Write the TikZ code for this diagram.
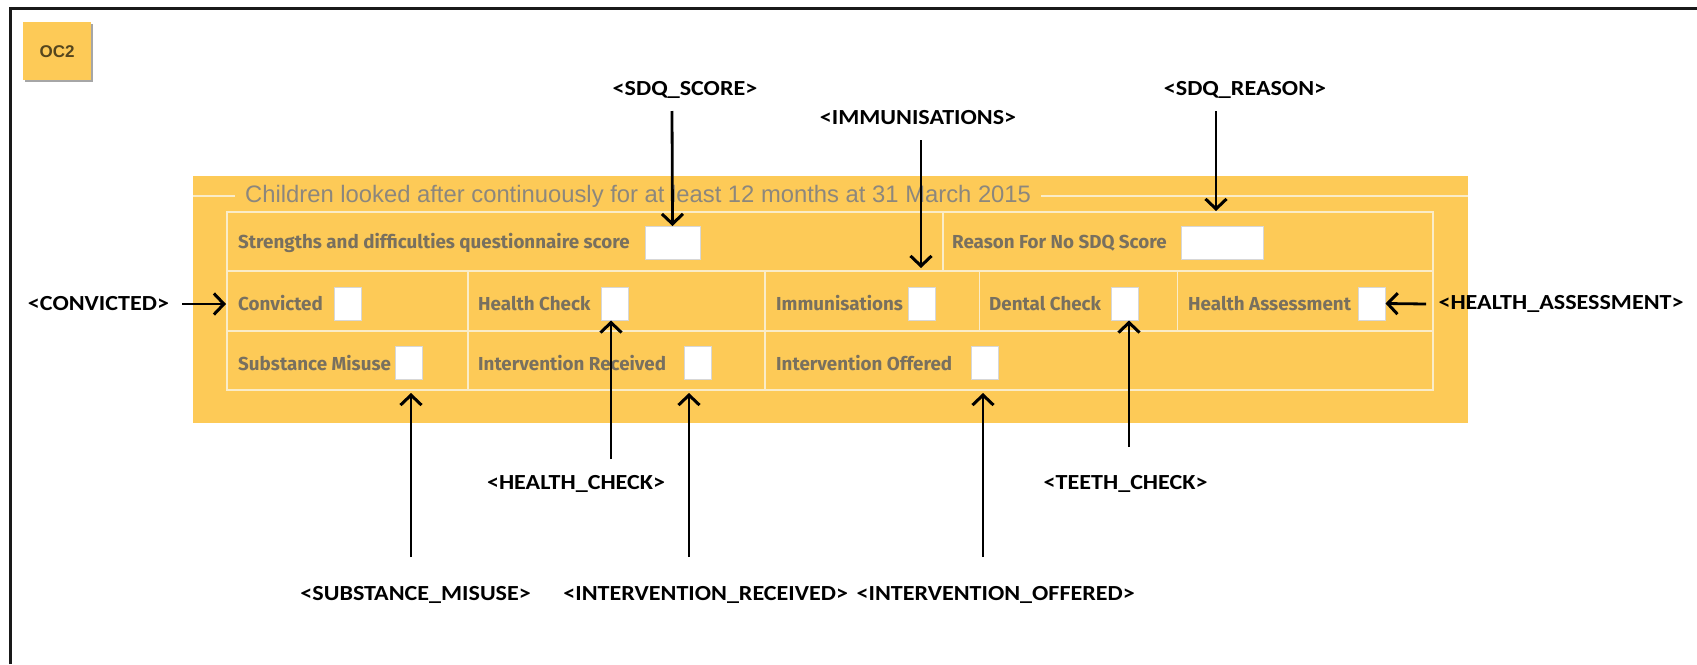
\documentclass[tikz,border=0pt]{standalone}
\usepackage{fontspec}
\usetikzlibrary{arrows.meta}
\newfontfamily\labfont[FakeStretch=1.12]{Carlito}
\newfontfamily\formfont{Fira Sans}
\newfontfamily\legfont{Liberation Sans}
\definecolor{panel}{RGB}{253,202,87}
\definecolor{tline}{RGB}{250,236,200}
\definecolor{formtxt}{RGB}{120,112,95}
\definecolor{legtxt}{RGB}{140,135,125}
\definecolor{boxedge}{RGB}{215,215,215}
\definecolor{framec}{RGB}{25,25,25}
\definecolor{btntxt}{RGB}{85,70,30}
\tikzset{
  lab/.style={font=\labfont\bfseries\fontsize{21.5}{24}\selectfont, text=black, inner sep=0pt},
  flab/.style={font=\formfont\bfseries\fontsize{18.8}{21}\selectfont, text=formtxt, anchor=west, inner sep=0pt},
  cbox/.style={draw=boxedge, line width=1pt, fill=white, minimum width=27pt, minimum height=33pt, inner sep=0pt},
  arr/.style={-{Straight Barb[length=10pt,width=21pt,line width=3pt]}, line width=2.8pt, black},
  tl/.style={draw=tline, line width=1.8pt},
}
\begin{document}
\begin{tikzpicture}[x=1pt,y=-1pt]
\useasboundingbox (0,0) rectangle (1697,664);
% frame
\draw[framec, line width=3.5pt] (10.7,664) -- (10.7,8.7) -- (1697,8.7);
% OC2 button
\fill[gray!70] (25,24) rectangle (93,82);
\node[fill=panel, minimum width=68pt, minimum height=58pt, inner sep=0pt, anchor=north west,
  font=\legfont\bfseries\fontsize{17}{19}\selectfont, text=btntxt] (oc2) at (23,22) {OC2};
% panel
\fill[panel] (193,176) rectangle (1468,423);
% fieldset line + legend
\draw[tl] (193,196) -- (1468,196);
\node[fill=panel, inner xsep=10pt, inner ysep=0pt, anchor=west, text=legtxt,
  font=\legfont\fontsize{23.8}{26}\selectfont] (legend) at (235,196)
  {Children looked after continuously for at least 12 months at 31 March 2015};
% table lines
\draw[tl] (227,212) rectangle (1433,390);
\draw[tl] (227,271) -- (1433,271);
\draw[tl] (227,331) -- (1433,331);
\draw[tl] (943,212) -- (943,271);
\draw[tl] (467.6,271) -- (467.6,390);
\draw[tl] (765,271) -- (765,390);
\draw[tl] (979.5,271) -- (979.5,331);
\draw[tl] (1177.5,271) -- (1177.5,331);
% row 1
\node[flab] (tsdq) at (238,243) {Strengths and difficulties questionnaire score};
\node[cbox, minimum width=55pt] (bsdq) at (672.5,243) {};
\node[flab] (treason) at (952,243) {Reason For No SDQ Score};
\node[cbox, minimum width=82pt] (breason) at (1222,243) {};
% row 2
\node[flab] (tconv) at (238,303.5) {Convicted};
\node[cbox] (bconv) at (347.75,303.5) {};
\node[flab] (thc) at (478,303.5) {Health Check};
\node[cbox] (bhc) at (614.5,303.5) {};
\node[flab] (timm) at (776,303.5) {Immunisations};
\node[cbox] (bimm) at (921.5,303.5) {};
\node[flab] (tden) at (989,303.5) {Dental Check};
\node[cbox] (bden) at (1125,303.5) {};
\node[flab] (tha) at (1188,303.5) {Health Assessment};
\node[cbox] (bha) at (1371.5,303.5) {};
% row 3
\node[flab] (tsub) at (238,363) {Substance Misuse};
\node[cbox] (bsub) at (408.5,363) {};
\node[flab] (tir) at (478,363) {Intervention Received};
\node[cbox] (bir) at (697.5,363) {};
\node[flab] (tio) at (776,363) {Intervention Offered};
\node[cbox] (bio) at (984.5,363) {};
% labels
\node[lab] (lsdq) at (685,90) {<SDQ\_SCORE>};
\node[lab] (lreason) at (1245,90) {<SDQ\_REASON>};
\node[lab] (limm) at (918,118) {<IMMUNISATIONS>};
\node[lab] (lconv) at (98.5,304) {<CONVICTED>};
\node[lab] (lha) at (1561,304) {<HEALTH\_ASSESSMENT>};
\node[lab] (lhc) at (576,484) {<HEALTH\_CHECK>};
\node[lab] (lteeth) at (1125.6,484) {<TEETH\_CHECK>};
\node[lab] (lsub) at (415.6,595) {<SUBSTANCE\_MISUSE>};
\node[lab] (lir) at (705.7,595) {<INTERVENTION\_RECEIVED>};
\node[lab] (lio) at (995.7,595) {<INTERVENTION\_OFFERED>};
% arrow coordinates
\coordinate (sdqT) at (672,111);
\coordinate (reasonT) at (1216,111);
\coordinate (reasonH) at (1216,211);
\coordinate (immT) at (921,140);
\coordinate (immH) at (921,268);
\coordinate (convT) at (182,304);
\coordinate (convH) at (226,304);
\coordinate (haT) at (1426,304);
\coordinate (hcT) at (611,459);
\coordinate (teethT) at (1129,447);
\coordinate (subT) at (411,557);
\coordinate (subH) at (411,393);
\coordinate (irT) at (689,557);
\coordinate (irH) at (689,393);
\coordinate (ioT) at (983,557);
\coordinate (ioH) at (983,393);
% arrows
\draw[arr] (sdqT) -- (bsdq.north);
\draw[arr] (reasonT) -- (reasonH);
\draw[arr] (immT) -- (immH);
\draw[arr] (convT) -- (convH);
\draw[arr] (haT) -- (bha.east);
\draw[arr] (hcT) -- (hcT |- bhc.south);
\draw[arr] (teethT) -- (teethT |- bden.south);
\draw[arr] (subT) -- (subH);
\draw[arr] (irT) -- (irH);
\draw[arr] (ioT) -- (ioH);
\end{tikzpicture}
\end{document}
